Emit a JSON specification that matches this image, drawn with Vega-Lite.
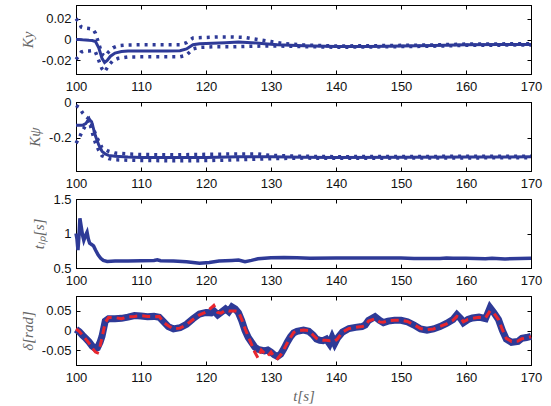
{
  "$schema": "https://vega.github.io/schema/vega-lite/v6.json",
  "padding": {"left": 19, "top": 4, "right": 5, "bottom": 2},
  "background": "white",
  "bounds": "flush",
  "spacing": 28,
  "config": {
    "view": {"stroke": "black", "strokeWidth": 1},
    "axis": {
      "grid": false,
      "domainColor": "black",
      "tickColor": "black",
      "tickSize": -4,
      "labelFont": "Liberation Sans",
      "labelFontSize": 13,
      "labelColor": "#111",
      "titleFont": "Liberation Serif",
      "titleFontStyle": "italic",
      "titleFontWeight": "normal",
      "titleColor": "#666",
      "titleFontSize": 15
    },
    "axisX": {"labelPadding": 10, "labelFlush": false},
    "axisY": {"labelPadding": 9, "titlePadding": 6, "labelFlush": false}
  },
  "datasets": {
    "p1": [
      {"t": 100, "s": "c", "v": 0.0}, {"t": 100.5, "s": "c", "v": 0.0}, {"t": 101, "s": "c", "v": -0.0003}, {"t": 101.5, "s": "c", "v": -0.0005}, {"t": 102, "s": "c", "v": -0.0008}, {"t": 102.5, "s": "c", "v": -0.001}, {"t": 103, "s": "c", "v": -0.002}, {"t": 103.5, "s": "c", "v": -0.008}, {"t": 104, "s": "c", "v": -0.018}, {"t": 104.4, "s": "c", "v": -0.022}, {"t": 104.8, "s": "c", "v": -0.02}, {"t": 105.3, "s": "c", "v": -0.016}, {"t": 106, "s": "c", "v": -0.013}, {"t": 107, "s": "c", "v": -0.0115}, {"t": 108, "s": "c", "v": -0.011}, {"t": 110, "s": "c", "v": -0.011}, {"t": 112, "s": "c", "v": -0.011}, {"t": 114, "s": "c", "v": -0.011}, {"t": 116, "s": "c", "v": -0.0108}, {"t": 117, "s": "c", "v": -0.009}, {"t": 118, "s": "c", "v": -0.005}, {"t": 119, "s": "c", "v": -0.004}, {"t": 121, "s": "c", "v": -0.0035}, {"t": 123, "s": "c", "v": -0.003}, {"t": 125, "s": "c", "v": -0.0025}, {"t": 127, "s": "c", "v": -0.003}, {"t": 129, "s": "c", "v": -0.004}, {"t": 131, "s": "c", "v": -0.005}, {"t": 135, "s": "c", "v": -0.006}, {"t": 140, "s": "c", "v": -0.0068}, {"t": 145, "s": "c", "v": -0.0066}, {"t": 150, "s": "c", "v": -0.0062}, {"t": 155, "s": "c", "v": -0.0058}, {"t": 160, "s": "c", "v": -0.005}, {"t": 165, "s": "c", "v": -0.0048}, {"t": 170, "s": "c", "v": -0.0047},
      {"t": 100, "s": "u", "v": 0.02}, {"t": 100.4, "s": "u", "v": 0.017}, {"t": 100.8, "s": "u", "v": 0.012}, {"t": 101.3, "s": "u", "v": 0.011}, {"t": 102, "s": "u", "v": 0.0105}, {"t": 102.6, "s": "u", "v": 0.01}, {"t": 103, "s": "u", "v": 0.006}, {"t": 103.5, "s": "u", "v": -0.004}, {"t": 104, "s": "u", "v": -0.014}, {"t": 104.5, "s": "u", "v": -0.016}, {"t": 105, "s": "u", "v": -0.012}, {"t": 105.7, "s": "u", "v": -0.008}, {"t": 106.5, "s": "u", "v": -0.006}, {"t": 108, "s": "u", "v": -0.0052}, {"t": 110, "s": "u", "v": -0.005}, {"t": 112, "s": "u", "v": -0.005}, {"t": 114, "s": "u", "v": -0.005}, {"t": 116, "s": "u", "v": -0.005}, {"t": 117, "s": "u", "v": -0.003}, {"t": 118, "s": "u", "v": 0.0015}, {"t": 120, "s": "u", "v": 0.002}, {"t": 122, "s": "u", "v": 0.0025}, {"t": 124, "s": "u", "v": 0.0025}, {"t": 126, "s": "u", "v": 0.002}, {"t": 128, "s": "u", "v": 0.0}, {"t": 130, "s": "u", "v": -0.002}, {"t": 132, "s": "u", "v": -0.004}, {"t": 135, "s": "u", "v": -0.0052}, {"t": 140, "s": "u", "v": -0.0062}, {"t": 145, "s": "u", "v": -0.006}, {"t": 150, "s": "u", "v": -0.0056}, {"t": 155, "s": "u", "v": -0.0052}, {"t": 160, "s": "u", "v": -0.0044}, {"t": 165, "s": "u", "v": -0.0042}, {"t": 170, "s": "u", "v": -0.0041},
      {"t": 100, "s": "l", "v": -0.019}, {"t": 100.4, "s": "l", "v": -0.016}, {"t": 100.8, "s": "l", "v": -0.012}, {"t": 101.3, "s": "l", "v": -0.011}, {"t": 102, "s": "l", "v": -0.011}, {"t": 102.6, "s": "l", "v": -0.0105}, {"t": 103, "s": "l", "v": -0.012}, {"t": 103.5, "s": "l", "v": -0.02}, {"t": 104, "s": "l", "v": -0.028}, {"t": 104.4, "s": "l", "v": -0.031}, {"t": 105, "s": "l", "v": -0.025}, {"t": 105.7, "s": "l", "v": -0.02}, {"t": 106.5, "s": "l", "v": -0.018}, {"t": 108, "s": "l", "v": -0.0167}, {"t": 110, "s": "l", "v": -0.0166}, {"t": 112, "s": "l", "v": -0.0166}, {"t": 114, "s": "l", "v": -0.0166}, {"t": 116, "s": "l", "v": -0.0165}, {"t": 117, "s": "l", "v": -0.015}, {"t": 118, "s": "l", "v": -0.009}, {"t": 119, "s": "l", "v": -0.0075}, {"t": 121, "s": "l", "v": -0.007}, {"t": 124, "s": "l", "v": -0.007}, {"t": 127, "s": "l", "v": -0.0065}, {"t": 129, "s": "l", "v": -0.0062}, {"t": 131, "s": "l", "v": -0.0062}, {"t": 135, "s": "l", "v": -0.0068}, {"t": 140, "s": "l", "v": -0.0074}, {"t": 145, "s": "l", "v": -0.0072}, {"t": 150, "s": "l", "v": -0.0068}, {"t": 155, "s": "l", "v": -0.0064}, {"t": 160, "s": "l", "v": -0.0056}, {"t": 165, "s": "l", "v": -0.0054}, {"t": 170, "s": "l", "v": -0.0053}
    ],
    "p2": [
      {"t": 100, "s": "c", "v": -0.13}, {"t": 101, "s": "c", "v": -0.13}, {"t": 101.5, "s": "c", "v": -0.12}, {"t": 102, "s": "c", "v": -0.095}, {"t": 102.4, "s": "c", "v": -0.11}, {"t": 103, "s": "c", "v": -0.19}, {"t": 103.5, "s": "c", "v": -0.24}, {"t": 104, "s": "c", "v": -0.275}, {"t": 104.5, "s": "c", "v": -0.29}, {"t": 105, "s": "c", "v": -0.298}, {"t": 106, "s": "c", "v": -0.303}, {"t": 108, "s": "c", "v": -0.307}, {"t": 110, "s": "c", "v": -0.309}, {"t": 115, "s": "c", "v": -0.31}, {"t": 120, "s": "c", "v": -0.309}, {"t": 125, "s": "c", "v": -0.306}, {"t": 130, "s": "c", "v": -0.306}, {"t": 135, "s": "c", "v": -0.308}, {"t": 140, "s": "c", "v": -0.309}, {"t": 150, "s": "c", "v": -0.308}, {"t": 160, "s": "c", "v": -0.307}, {"t": 170, "s": "c", "v": -0.306},
      {"t": 100, "s": "u", "v": -0.02}, {"t": 100.5, "s": "u", "v": -0.03}, {"t": 101, "s": "u", "v": -0.06}, {"t": 101.5, "s": "u", "v": -0.08}, {"t": 102, "s": "u", "v": -0.095}, {"t": 102.5, "s": "u", "v": -0.13}, {"t": 103, "s": "u", "v": -0.18}, {"t": 103.5, "s": "u", "v": -0.22}, {"t": 104, "s": "u", "v": -0.255}, {"t": 105, "s": "u", "v": -0.275}, {"t": 106, "s": "u", "v": -0.285}, {"t": 108, "s": "u", "v": -0.29}, {"t": 110, "s": "u", "v": -0.293}, {"t": 115, "s": "u", "v": -0.295}, {"t": 120, "s": "u", "v": -0.292}, {"t": 125, "s": "u", "v": -0.29}, {"t": 128, "s": "u", "v": -0.29}, {"t": 130, "s": "u", "v": -0.298}, {"t": 135, "s": "u", "v": -0.303}, {"t": 140, "s": "u", "v": -0.305}, {"t": 150, "s": "u", "v": -0.304}, {"t": 160, "s": "u", "v": -0.303}, {"t": 170, "s": "u", "v": -0.302},
      {"t": 100, "s": "l", "v": -0.23}, {"t": 100.5, "s": "l", "v": -0.2}, {"t": 101, "s": "l", "v": -0.16}, {"t": 101.5, "s": "l", "v": -0.13}, {"t": 102, "s": "l", "v": -0.1}, {"t": 102.5, "s": "l", "v": -0.17}, {"t": 103, "s": "l", "v": -0.23}, {"t": 103.5, "s": "l", "v": -0.27}, {"t": 104, "s": "l", "v": -0.3}, {"t": 105, "s": "l", "v": -0.315}, {"t": 106, "s": "l", "v": -0.322}, {"t": 108, "s": "l", "v": -0.325}, {"t": 110, "s": "l", "v": -0.326}, {"t": 115, "s": "l", "v": -0.328}, {"t": 120, "s": "l", "v": -0.327}, {"t": 125, "s": "l", "v": -0.322}, {"t": 130, "s": "l", "v": -0.316}, {"t": 135, "s": "l", "v": -0.313}, {"t": 140, "s": "l", "v": -0.314}, {"t": 150, "s": "l", "v": -0.313}, {"t": 160, "s": "l", "v": -0.312}, {"t": 170, "s": "l", "v": -0.311}
    ],
    "p3": [
      {"t": 100, "v": 1.0}, {"t": 100.15, "v": 0.92}, {"t": 100.3, "v": 0.76}, {"t": 100.45, "v": 0.95}, {"t": 100.6, "v": 1.22}, {"t": 100.8, "v": 1.1}, {"t": 101.0, "v": 0.98}, {"t": 101.2, "v": 0.9}, {"t": 101.5, "v": 0.98}, {"t": 101.7, "v": 1.02}, {"t": 101.9, "v": 0.92}, {"t": 102.1, "v": 0.86}, {"t": 102.4, "v": 0.84}, {"t": 102.7, "v": 0.82}, {"t": 103.0, "v": 0.76}, {"t": 103.4, "v": 0.69}, {"t": 103.8, "v": 0.64}, {"t": 104.2, "v": 0.61}, {"t": 104.8, "v": 0.595}, {"t": 106, "v": 0.6}, {"t": 108, "v": 0.6}, {"t": 110, "v": 0.605}, {"t": 112, "v": 0.61}, {"t": 112.5, "v": 0.62}, {"t": 113, "v": 0.605}, {"t": 115, "v": 0.6}, {"t": 117, "v": 0.59}, {"t": 119, "v": 0.57}, {"t": 120.5, "v": 0.58}, {"t": 122, "v": 0.6}, {"t": 124, "v": 0.61}, {"t": 125, "v": 0.615}, {"t": 126, "v": 0.59}, {"t": 127, "v": 0.61}, {"t": 128, "v": 0.635}, {"t": 130, "v": 0.65}, {"t": 132, "v": 0.652}, {"t": 134, "v": 0.648}, {"t": 136, "v": 0.64}, {"t": 140, "v": 0.645}, {"t": 145, "v": 0.645}, {"t": 150, "v": 0.645}, {"t": 152, "v": 0.638}, {"t": 156, "v": 0.638}, {"t": 157, "v": 0.645}, {"t": 158, "v": 0.64}, {"t": 160, "v": 0.64}, {"t": 163, "v": 0.635}, {"t": 164, "v": 0.642}, {"t": 166, "v": 0.632}, {"t": 170, "v": 0.64}
    ],
    "p4": [
      {"t": 100, "b": 0.003, "r": 0.004}, {"t": 100.5, "b": -0.003, "r": -0.002}, {"t": 101, "b": -0.012, "r": -0.012}, {"t": 101.5, "b": -0.02, "r": -0.022}, {"t": 102, "b": -0.029, "r": -0.032}, {"t": 102.5, "b": -0.04, "r": -0.045}, {"t": 103, "b": -0.046, "r": -0.055}, {"t": 103.3, "b": -0.044, "r": -0.057}, {"t": 103.7, "b": -0.03, "r": -0.04}, {"t": 104, "b": -0.015, "r": -0.018}, {"t": 104.5, "b": 0.024, "r": 0.02}, {"t": 105, "b": 0.03, "r": 0.033}, {"t": 106, "b": 0.03, "r": 0.033}, {"t": 107, "b": 0.031, "r": 0.03}, {"t": 108, "b": 0.034, "r": 0.035}, {"t": 109, "b": 0.038, "r": 0.036}, {"t": 110, "b": 0.037, "r": 0.038}, {"t": 111, "b": 0.035, "r": 0.036}, {"t": 112, "b": 0.036, "r": 0.035}, {"t": 112.8, "b": 0.034, "r": 0.036}, {"t": 113.5, "b": 0.022, "r": 0.02}, {"t": 114.2, "b": 0.01, "r": 0.012}, {"t": 115, "b": 0.004, "r": 0.004}, {"t": 116, "b": 0.007, "r": 0.006}, {"t": 117, "b": 0.016, "r": 0.015}, {"t": 118, "b": 0.03, "r": 0.028}, {"t": 119, "b": 0.042, "r": 0.04}, {"t": 120, "b": 0.046, "r": 0.047}, {"t": 120.8, "b": 0.045, "r": 0.058}, {"t": 121.2, "b": 0.05, "r": 0.064}, {"t": 121.8, "b": 0.04, "r": 0.046}, {"t": 122.3, "b": 0.046, "r": 0.044}, {"t": 123, "b": 0.055, "r": 0.052}, {"t": 123.5, "b": 0.048, "r": 0.05}, {"t": 124, "b": 0.06, "r": 0.05}, {"t": 124.5, "b": 0.055, "r": 0.05}, {"t": 125, "b": 0.045, "r": 0.048}, {"t": 125.5, "b": 0.025, "r": 0.028}, {"t": 126, "b": 0.0, "r": 0.005}, {"t": 126.5, "b": -0.018, "r": -0.015}, {"t": 127, "b": -0.03, "r": -0.035}, {"t": 127.5, "b": -0.042, "r": -0.055}, {"t": 128, "b": -0.048, "r": -0.07}, {"t": 128.5, "b": -0.05, "r": -0.05}, {"t": 129, "b": -0.052, "r": -0.058}, {"t": 129.5, "b": -0.05, "r": -0.065}, {"t": 130, "b": -0.055, "r": -0.055}, {"t": 130.5, "b": -0.062, "r": -0.068}, {"t": 131, "b": -0.066, "r": -0.072}, {"t": 131.5, "b": -0.06, "r": -0.062}, {"t": 132, "b": -0.046, "r": -0.048}, {"t": 132.5, "b": -0.03, "r": -0.032}, {"t": 133, "b": -0.016, "r": -0.018}, {"t": 133.5, "b": -0.006, "r": -0.005}, {"t": 134, "b": -0.002, "r": -0.001}, {"t": 135, "b": 0.001, "r": 0.001}, {"t": 135.8, "b": -0.002, "r": 0.0}, {"t": 136.5, "b": -0.012, "r": -0.012}, {"t": 137, "b": -0.022, "r": -0.02}, {"t": 137.5, "b": -0.025, "r": -0.024}, {"t": 138, "b": -0.026, "r": -0.025}, {"t": 138.5, "b": -0.022, "r": -0.025}, {"t": 139, "b": -0.034, "r": -0.026}, {"t": 139.4, "b": -0.018, "r": -0.025}, {"t": 139.8, "b": -0.033, "r": -0.027}, {"t": 140.2, "b": -0.02, "r": -0.022}, {"t": 141, "b": -0.004, "r": -0.004}, {"t": 142, "b": 0.005, "r": 0.005}, {"t": 143, "b": 0.008, "r": 0.008}, {"t": 144, "b": 0.01, "r": 0.01}, {"t": 144.5, "b": 0.014, "r": 0.012}, {"t": 145, "b": 0.026, "r": 0.024}, {"t": 146, "b": 0.035, "r": 0.03}, {"t": 146.7, "b": 0.026, "r": 0.022}, {"t": 147.3, "b": 0.02, "r": 0.021}, {"t": 148, "b": 0.024, "r": 0.025}, {"t": 149, "b": 0.026, "r": 0.026}, {"t": 150, "b": 0.026, "r": 0.026}, {"t": 151, "b": 0.022, "r": 0.023}, {"t": 152, "b": 0.014, "r": 0.015}, {"t": 153, "b": 0.004, "r": 0.005}, {"t": 154, "b": 0.001, "r": 0.002}, {"t": 155, "b": 0.004, "r": 0.004}, {"t": 156, "b": 0.01, "r": 0.01}, {"t": 157, "b": 0.018, "r": 0.017}, {"t": 158, "b": 0.028, "r": 0.026}, {"t": 158.6, "b": 0.04, "r": 0.036}, {"t": 159.2, "b": 0.03, "r": 0.032}, {"t": 159.6, "b": 0.02, "r": 0.022}, {"t": 160.3, "b": 0.028, "r": 0.028}, {"t": 161, "b": 0.032, "r": 0.031}, {"t": 162, "b": 0.034, "r": 0.034}, {"t": 163, "b": 0.03, "r": 0.032}, {"t": 163.7, "b": 0.058, "r": 0.05}, {"t": 164.3, "b": 0.045, "r": 0.044}, {"t": 165, "b": 0.028, "r": 0.028}, {"t": 165.6, "b": 0.0, "r": 0.002}, {"t": 166.2, "b": -0.022, "r": -0.02}, {"t": 167, "b": -0.03, "r": -0.028}, {"t": 168, "b": -0.028, "r": -0.027}, {"t": 168.6, "b": -0.02, "r": -0.021}, {"t": 169.3, "b": -0.018, "r": -0.019}, {"t": 170, "b": -0.015, "r": -0.016}
    ]
  },
  "vconcat": [
    {
      "width": 455, "height": 69,
      "data": {"name": "p1"},
      "layer": [
        {"transform": [{"filter": "datum.s === 'c'"}], "mark": {"type": "line", "color": "#2E3A97", "strokeWidth": 3},
         "encoding": {
           "x": {"field": "t", "type": "quantitative", "scale": {"domain": [100, 170]}, "axis": {"values": [100, 110, 120, 130, 140, 150, 160, 170], "title": null}},
           "y": {"field": "v", "type": "quantitative", "scale": {"domain": [-0.033, 0.033]}, "axis": {"values": [-0.02, 0, 0.02], "title": "Ky", "labelExpr": "datum.value == 0 ? '0' : (datum.value < 0 ? '-' + format(-datum.value, '~g') : format(datum.value, '~g'))"}}
         }},
        {"transform": [{"filter": "datum.s !== 'c'"}], "mark": {"type": "line", "color": "#2E3A97", "strokeWidth": 3.5, "strokeDash": [3, 5]},
         "encoding": {
           "x": {"field": "t", "type": "quantitative", "scale": {"domain": [100, 170]}, "axis": {"orient": "top", "values": [100, 110, 120, 130, 140, 150, 160, 170], "labels": false, "title": null}},
           "y": {"field": "v", "type": "quantitative", "scale": {"domain": [-0.033, 0.033]}, "axis": {"orient": "right", "values": [-0.02, 0, 0.02], "labels": false, "title": null}},
           "detail": {"field": "s"}
         }}
      ],
      "resolve": {"axis": {"x": "independent", "y": "independent"}}
    },
    {
      "width": 455, "height": 69,
      "data": {"name": "p2"},
      "layer": [
        {"transform": [{"filter": "datum.s === 'c'"}], "mark": {"type": "line", "color": "#2E3A97", "strokeWidth": 3},
         "encoding": {
           "x": {"field": "t", "type": "quantitative", "scale": {"domain": [100, 170]}, "axis": {"values": [100, 110, 120, 130, 140, 150, 160, 170], "title": null}},
           "y": {"field": "v", "type": "quantitative", "scale": {"domain": [-0.385, 0]}, "axis": {"values": [-0.2, 0], "title": "Kψ", "labelExpr": "datum.value == 0 ? '0' : (datum.value < 0 ? '-' + format(-datum.value, '~g') : format(datum.value, '~g'))"}}
         }},
        {"transform": [{"filter": "datum.s !== 'c'"}], "mark": {"type": "line", "color": "#2E3A97", "strokeWidth": 3.5, "strokeDash": [3, 5]},
         "encoding": {
           "x": {"field": "t", "type": "quantitative", "scale": {"domain": [100, 170]}, "axis": {"orient": "top", "values": [100, 110, 120, 130, 140, 150, 160, 170], "labels": false, "title": null}},
           "y": {"field": "v", "type": "quantitative", "scale": {"domain": [-0.385, 0]}, "axis": {"orient": "right", "values": [-0.2, 0], "labels": false, "title": null}},
           "detail": {"field": "s"}
         }}
      ],
      "resolve": {"axis": {"x": "independent", "y": "independent"}}
    },
    {
      "width": 455, "height": 69,
      "data": {"name": "p3"},
      "layer": [
        {"mark": {"type": "line", "color": "#2E3A97", "strokeWidth": 3.5},
         "encoding": {
           "x": {"field": "t", "type": "quantitative", "scale": {"domain": [100, 170]}, "axis": {"values": [100, 110, 120, 130, 140, 150, 160, 170], "title": null}},
           "y": {"field": "v", "type": "quantitative", "scale": {"domain": [0.5, 1.5]}, "axis": {"values": [0.5, 1, 1.5], "title": "tₗₚ[s]", "labelExpr": "format(datum.value, '~g')"}}
         }},
        {"mark": {"type": "line", "opacity": 0},
         "encoding": {
           "x": {"field": "t", "type": "quantitative", "scale": {"domain": [100, 170]}, "axis": {"orient": "top", "values": [100, 110, 120, 130, 140, 150, 160, 170], "labels": false, "title": null}},
           "y": {"field": "v", "type": "quantitative", "scale": {"domain": [0.5, 1.5]}, "axis": {"orient": "right", "values": [0.5, 1, 1.5], "labels": false, "title": null}}
         }}
      ],
      "resolve": {"axis": {"x": "independent", "y": "independent"}}
    },
    {
      "width": 455, "height": 69,
      "data": {"name": "p4"},
      "layer": [
        {"mark": {"type": "line", "color": "#2E3A97", "strokeWidth": 7},
         "encoding": {
           "x": {"field": "t", "type": "quantitative", "scale": {"domain": [100, 170]}, "axis": {"values": [100, 110, 120, 130, 140, 150, 160, 170], "title": "t[s]", "titlePadding": 4}},
           "y": {"field": "b", "type": "quantitative", "scale": {"domain": [-0.088, 0.088]}, "axis": {"values": [-0.05, 0, 0.05], "title": "δ[rad]", "labelExpr": "datum.value == 0 ? '0' : (datum.value < 0 ? '-' + format(-datum.value, '~g') : format(datum.value, '~g'))"}}
         }},
        {"mark": {"type": "line", "color": "#E8262E", "strokeWidth": 3, "strokeDash": [8, 5]},
         "encoding": {
           "x": {"field": "t", "type": "quantitative", "scale": {"domain": [100, 170]}, "axis": {"orient": "top", "values": [100, 110, 120, 130, 140, 150, 160, 170], "labels": false, "title": null}},
           "y": {"field": "r", "type": "quantitative", "scale": {"domain": [-0.088, 0.088]}, "axis": {"orient": "right", "values": [-0.05, 0, 0.05], "labels": false, "title": null}}
         }}
      ],
      "resolve": {"axis": {"x": "independent", "y": "independent"}}
    }
  ]
}
